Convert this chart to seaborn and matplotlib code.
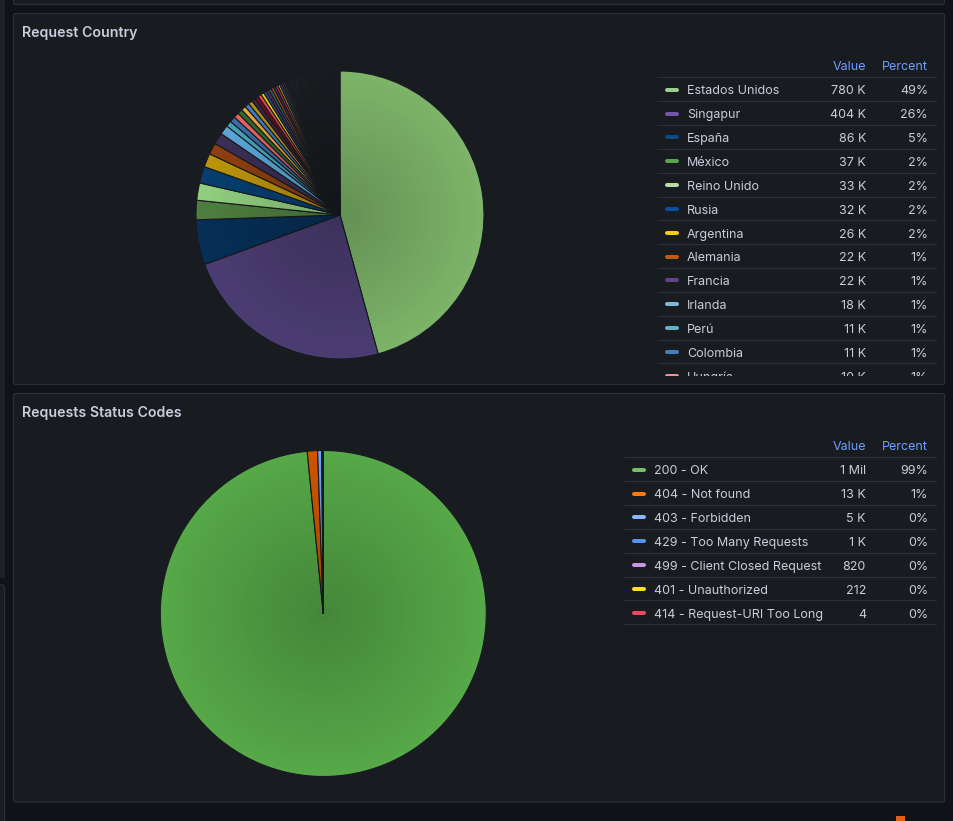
import matplotlib
matplotlib.use('Agg')
import matplotlib.pyplot as plt
import numpy as np
import seaborn as sns
from matplotlib.patches import FancyBboxPatch, Rectangle, Circle
from matplotlib.transforms import Bbox

# Request Country (legend rows that are visible)
countries = ['Estados Unidos', 'Singapur', 'España', 'México', 'Reino Unido', 'Rusia',
             'Argentina', 'Alemania', 'Francia', 'Irlanda', 'Perú', 'Colombia', 'Hungría']
country_values = [780000, 404000, 86000, 37000, 33000, 32000, 26000, 22000, 22000,
                  18000, 11000, 11000, 10000]
country_percent = [49, 26, 5, 2, 2, 2, 2, 1, 1, 1, 1, 1, 1]

# rest of the country legend is scrolled out of view, values estimated from the thin slices
other_countries = ['Brasil', 'Chile', 'Canadá', 'Italia', 'Países Bajos', 'India', 'Japón',
                   'Polonia', 'Suecia', 'Portugal', 'Suiza', 'Bélgica', 'Austria', 'Ucrania',
                   'Turquía', 'Australia', 'China', 'Venezuela',
                   'Ecuador', 'Uruguay', 'Paraguay', 'Bolivia', 'Costa Rica', 'Panamá',
                   'Guatemala', 'Honduras', 'El Salvador', 'Nicaragua', 'Cuba',
                   'República Dominicana', 'Puerto Rico', 'Noruega', 'Dinamarca', 'Finlandia',
                   'Grecia', 'Rumanía', 'Bulgaria', 'Chequia', 'Eslovaquia', 'Croacia', 'Serbia',
                   'Israel', 'Egipto', 'Marruecos', 'Sudáfrica', 'Nigeria', 'Indonesia', 'Vietnam',
                   'Tailandia', 'Filipinas', 'Malasia', 'Hong Kong', 'Taiwán', 'Corea del Sur',
                   'Arabia Saudí', 'Pakistán', 'Nueva Zelanda', 'Kazajistán']
other_values = [9500, 9000, 8500, 8000, 7500, 7000, 6500, 6000, 5500, 5500, 5000, 5000,
                4500, 4500, 4000, 4000, 3500, 3500,
                3400, 3300, 3300, 3200, 3200, 3100, 3100, 3000, 3000, 3000,
                2900, 2900, 2900, 2800, 2800, 2800, 2700, 2700, 2700, 2600,
                2600, 2600, 2500, 2500, 2500, 2500, 2400, 2400, 2400, 2400,
                2300, 2300, 2300, 2300, 2200, 2200, 2200, 2200, 2100, 2100]

# Requests Status Codes
status_codes = ['200 - OK', '404 - Not found', '403 - Forbidden', '429 - Too Many Requests',
                '499 - Client Closed Request', '401 - Unauthorized', '414 - Request-URI Too Long']
status_values = [1250000, 13000, 5000, 1000, 820, 212, 4]
status_percent = [99, 1, 0, 0, 0, 0, 0]

# colours (legend markers and the darker pie fills)
country_marker_colors = ['#9ccf8b', '#7058a8', '#0d4a82', '#5fa052', '#b7dbab', '#0a50a1',
                         '#f2cc0c', '#c15c17', '#5e4585', '#82b5d8', '#64b0c8', '#447ebc', '#f29191']
country_slice_colors = ['#7db469', '#4b3d72', '#072f57', '#4f7f40', '#92d07f', '#063f70',
                        '#bb950c', '#8f3f10', '#3b2f55', '#5aa6d6', '#45a3b8', '#3b6ca3', '#ea6262']
mid_colors = ['#2e6a2c', '#eaa43c', '#3f7cc0', '#b8900e', '#3a2245', '#6a1020', '#e04a52',
              '#f2cc0c', '#1f4f86', '#5a2a66', '#2f6a6a', '#a0501a', '#4a2a60', '#c03040',
              '#d0b020', '#2a4a80', '#3a5a30', '#603050']
tail_colors = ['#2a2440', '#1e3048', '#3a2a1e', '#2a3a2a', '#402030', '#24304a', '#3a3a20', '#2a2030']
status_marker_colors = ['#73bf69', '#ff780a', '#8ab8ff', '#5794f2', '#ca95e5', '#fade2a', '#f2495c']
status_slice_colors = ['#56a848', '#cf5500', '#6ea4f5', '#4a80e0', '#a070c0', '#d0b020', '#d04050']

BG = '#111217'
PANEL = '#181b1f'
BORDER = '#2b2e35'
TEXT = '#ccccdc'
HEAD = '#6e9fff'
SEP = '#2c2f36'
W, H = 954, 821

sns.set_theme(style='dark', rc={'figure.facecolor': BG, 'axes.facecolor': 'none'})
plt.rcParams['font.family'] = ['Inter', 'DejaVu Sans']


def short(v):
    if v >= 1e6:
        return f'{v / 1e6:.0f} Mil'
    if v >= 1e3:
        return f'{v / 1e3:.0f} K'
    return f'{v:.0f}'


fig = plt.figure(figsize=(W / 100, H / 100), dpi=100)
fig.patch.set_facecolor(BG)

# overlay in pixel coordinates for panels and legend tables
ov = fig.add_axes([0, 0, 1, 1])
ov.set_xlim(0, W)
ov.set_ylim(H, 0)
ov.set_axis_off()


def panel(x0, y0, x1, y1):
    ov.add_patch(FancyBboxPatch((x0, y0), x1 - x0, y1 - y0,
                                boxstyle='round,pad=0,rounding_size=2',
                                facecolor=PANEL, edgecolor=BORDER, linewidth=0.9))


ov.add_patch(Rectangle((0, 0), 5, 578, facecolor='#1f2024', edgecolor='none'))
panel(-10, 585, 4.5, 840)
panel(13.5, -20, 944.5, 4.5)
panel(13.5, 13.5, 944.5, 384.5)
panel(13.5, 393.5, 944.5, 802)
ov.add_patch(Rectangle((896, 816), 9, 6, facecolor='#e0601a', edgecolor='none'))

ov.text(22, 36.7, 'Request Country', color=TEXT, fontsize=10.2, fontweight='semibold', va='baseline')
ov.text(22, 416.7, 'Requests Status Codes', color=TEXT, fontsize=10.2, fontweight='semibold', va='baseline')


def legend(x0, x1, first_line, names, values, pcts, colors, clip_bottom=None):
    step = 23.85
    clip = None
    if clip_bottom is not None:
        clip = Bbox.from_extents(x0 - 5, H - clip_bottom, x1 + 10, H - first_line + 30)
    arts = []
    arts.append(ov.text(866, first_line - 7, 'Value', color=HEAD, fontsize=9, ha='right', va='baseline'))
    arts.append(ov.text(928, first_line - 7, 'Percent', color=HEAD, fontsize=9, ha='right', va='baseline'))
    for i in range(len(names) + 1):
        y = first_line + i * step
        arts += ov.plot([x0, x1], [y, y], color=SEP, linewidth=0.8)
    for i, (n, v, p, c) in enumerate(zip(names, values, pcts, colors)):
        base = first_line + i * step + 17.2
        arts += ov.plot([x0 + 10, x0 + 20], [base - 4.8, base - 4.8], color=c,
                        linewidth=2.9, solid_capstyle='round')
        arts.append(ov.text(x0 + 30, base, n, color=TEXT, fontsize=9, va='baseline'))
        arts.append(ov.text(866, base, short(v), color=TEXT, fontsize=9, ha='right', va='baseline'))
        arts.append(ov.text(928, base, f'{p}%', color=TEXT, fontsize=9, ha='right', va='baseline'))
    if clip is not None:
        for a in arts:
            a.set_clip_path(None)
            a.set_clip_box(clip)
            a.set_clip_on(True)


legend(657, 936, 77.3, countries, country_values, country_percent,
       country_marker_colors, clip_bottom=375.5)
legend(624, 936, 457.3, status_codes, status_values, status_percent, status_marker_colors)


def pie(cx, cy, radius, values, colors, shade):
    half = radius + 14
    ax = fig.add_axes([(cx - half) / W, (H - cy - half) / H, 2 * half / W, 2 * half / H])
    ax.pie(values, colors=colors, startangle=90, counterclock=False,
           wedgeprops=dict(edgecolor=PANEL, linewidth=0.8))
    yy, xx = np.mgrid[-1:1:400j, -1:1:400j]
    r = np.hypot(xx, yy)
    img = np.zeros((400, 400, 4))
    img[..., 3] = shade * np.clip(1 - r, 0, 1)
    im = ax.imshow(img, extent=(-1, 1, -1, 1), zorder=5, interpolation='bilinear')
    im.set_clip_path(Circle((0, 0), 1, transform=ax.transData))
    lim = half / radius
    ax.set_xlim(-lim, lim)
    ax.set_ylim(-lim, lim)
    ax.set_axis_off()
    return ax


all_country_values = country_values + other_values
all_country_colors = country_slice_colors + mid_colors + \
    [tail_colors[i % len(tail_colors)] for i in range(len(other_values) - len(mid_colors))]
pie(340, 215, 144, all_country_values, all_country_colors, 0.2)
pie(323.3, 613.5, 163, status_values, status_slice_colors, 0.2)

fig.savefig('out.png', dpi=100, facecolor=BG)
